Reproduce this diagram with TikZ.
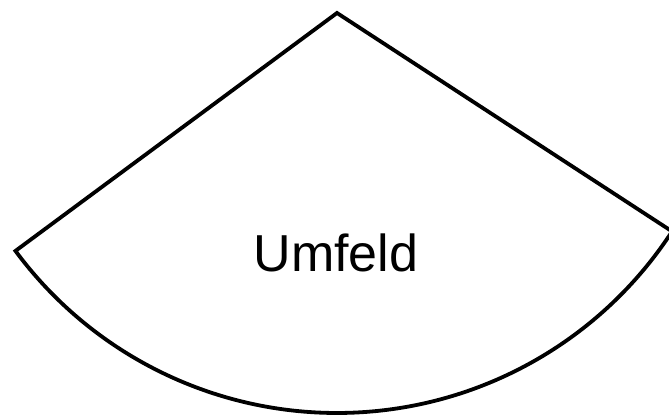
\documentclass[tikz,border=0pt]{standalone}
\usepackage{fontspec}
\setmainfont{Liberation Sans}
\begin{document}
\begin{tikzpicture}[x=1pt,y=1pt,
  sector/.style={draw=black,line width=3.8pt,line join=miter},
  lbl/.style={font=\fontsize{52}{60}\selectfont,inner sep=0pt,anchor=base}]
\useasboundingbox (0,0) rectangle (669,419);
\clip (0,0) rectangle (669,419);
\coordinate (apex) at (337,406);
\draw[sector] (apex) -- ++(216.5:400pt) arc[start angle=216.5,end angle=326.9,radius=400pt] -- cycle;
\node[lbl] (umfeld) at (336,147) {Umfeld};
\end{tikzpicture}
\end{document}
